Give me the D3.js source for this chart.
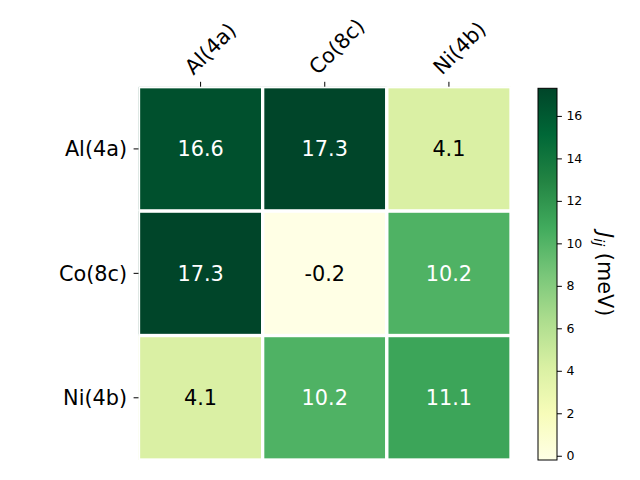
<!DOCTYPE html>
<html><head><meta charset="utf-8">
<script src="https://cdn.jsdelivr.net/npm/d3@7"></script>
<style>body{margin:0;background:#fff} svg text{font-family:"DejaVu Sans",sans-serif}</style>
</head><body><svg id="c" width="640" height="480"></svg>
<script>
const rowLabels = ["Al(4a)","Co(8c)","Ni(4b)"];
const colLabels = ["Al(4a)","Co(8c)","Ni(4b)"];
const values = [
  [16.6, 17.3, 4.1],
  [17.3, -0.2, 10.2],
  [4.1, 10.2, 11.1]
];
const cbTicks = [0,2,4,6,8,10,12,14,16];
const cbLabel = "(meV)";
const vmin = -0.2, vmax = 17.3;
const ylgn = ["#ffffe5","#f7fcb9","#d9f0a3","#addd8e","#78c679","#41ab5d","#238443","#006837","#004529"];

const svg = d3.select("#c");
const L = 138.5, R = 511, T = 86.7, B = 460;

const x = d3.scaleBand().domain(d3.range(colLabels.length)).range([L, R]);
const y = d3.scaleBand().domain(d3.range(rowLabels.length)).range([T, B]);
const color = d3.scaleLinear()
  .domain(ylgn.map((c,i) => vmin + (vmax - vmin) * i / (ylgn.length - 1)))
  .range(ylgn).interpolate(d3.interpolateRgb).clamp(true);

const defs = svg.append("defs");
defs.append("clipPath").attr("id","axclip").append("rect")
  .attr("x", L).attr("y", T).attr("width", R - L).attr("height", B - T);

const cells = [];
values.forEach((row, i) => row.forEach((v, j) => cells.push({i, j, v})));

const g = svg.append("g").attr("clip-path","url(#axclip)");
g.selectAll("rect").data(cells).join("rect")
  .attr("x", d => x(d.j)).attr("y", d => y(d.i))
  .attr("width", x.bandwidth()).attr("height", y.bandwidth())
  .attr("fill", d => color(d.v))
  .attr("stroke", "#fff").attr("stroke-width", 3.3);

svg.append("g").selectAll("text").data(cells).join("text")
  .attr("x", d => x(d.j) + x.bandwidth()/2)
  .attr("y", d => y(d.i) + y.bandwidth()/2)
  .attr("dy", "0.36em")
  .attr("text-anchor", "middle")
  .attr("font-size", "20.8px")
  .attr("fill", d => d.v > (vmin + vmax) / 2 ? "#fff" : "#000")
  .text(d => d.v.toFixed(1));

// top axis
const xAxis = svg.append("g").attr("transform", `translate(0,${T})`)
  .call(d3.axisTop(x).tickSize(4.9).tickFormat(i => colLabels[i]));
xAxis.select(".domain").remove();
xAxis.selectAll("line").attr("stroke", "#000").attr("stroke-width", 1);
xAxis.selectAll("text")
  .attr("font-size", "20.8px").attr("fill", "#000")
  .attr("x", 0).attr("y", 0).attr("dy", 0)
  .attr("text-anchor", "start")
  .attr("transform", "translate(-7,-11) rotate(-45)");

// left axis
const yAxis = svg.append("g").attr("transform", `translate(${L},0)`)
  .call(d3.axisLeft(y).tickSize(4.9).tickPadding(6.5).tickFormat(i => rowLabels[i]));
yAxis.select(".domain").remove();
yAxis.selectAll("line").attr("stroke", "#000").attr("stroke-width", 1);
yAxis.selectAll("text").attr("font-size", "20.8px").attr("fill", "#000").attr("dy", "0.36em");

// colorbar
const CL = 538, CR = 557, CT = 88.3, CB = 460;
const cy = d3.scaleLinear().domain([vmin, vmax]).range([CB, CT]);
const grad = defs.append("linearGradient").attr("id","cbgrad")
  .attr("x1",0).attr("y1",1).attr("x2",0).attr("y2",0);
grad.selectAll("stop").data(color.domain()).join("stop")
  .attr("offset", d => (d - vmin) / (vmax - vmin))
  .attr("stop-color", d => color(d));
svg.append("rect").attr("x", CL).attr("y", CT).attr("width", CR - CL).attr("height", CB - CT)
  .attr("fill", "url(#cbgrad)").attr("stroke", "#000").attr("stroke-width", 1);
const cAxis = svg.append("g").attr("transform", `translate(${CR},0)`)
  .call(d3.axisRight(cy).tickValues(cbTicks).tickSize(4.9).tickPadding(4.5).tickFormat(d3.format("d")));
cAxis.select(".domain").remove();
cAxis.selectAll("line").attr("stroke", "#000").attr("stroke-width", 1);
cAxis.selectAll("text").attr("font-size", "12.5px").attr("fill", "#000");

const lab = svg.append("text")
  .attr("transform", `translate(598,${(CT + CB)/2}) rotate(90)`)
  .attr("text-anchor", "middle").attr("font-size", "20.8px").attr("fill", "#000");
lab.append("tspan").attr("font-style", "italic").text("J");
lab.append("tspan").attr("font-style", "italic").attr("font-size", "14.5px").attr("dy", 4).text("ij");
lab.append("tspan").attr("dy", -4).text(" " + cbLabel);
</script></body></html>
